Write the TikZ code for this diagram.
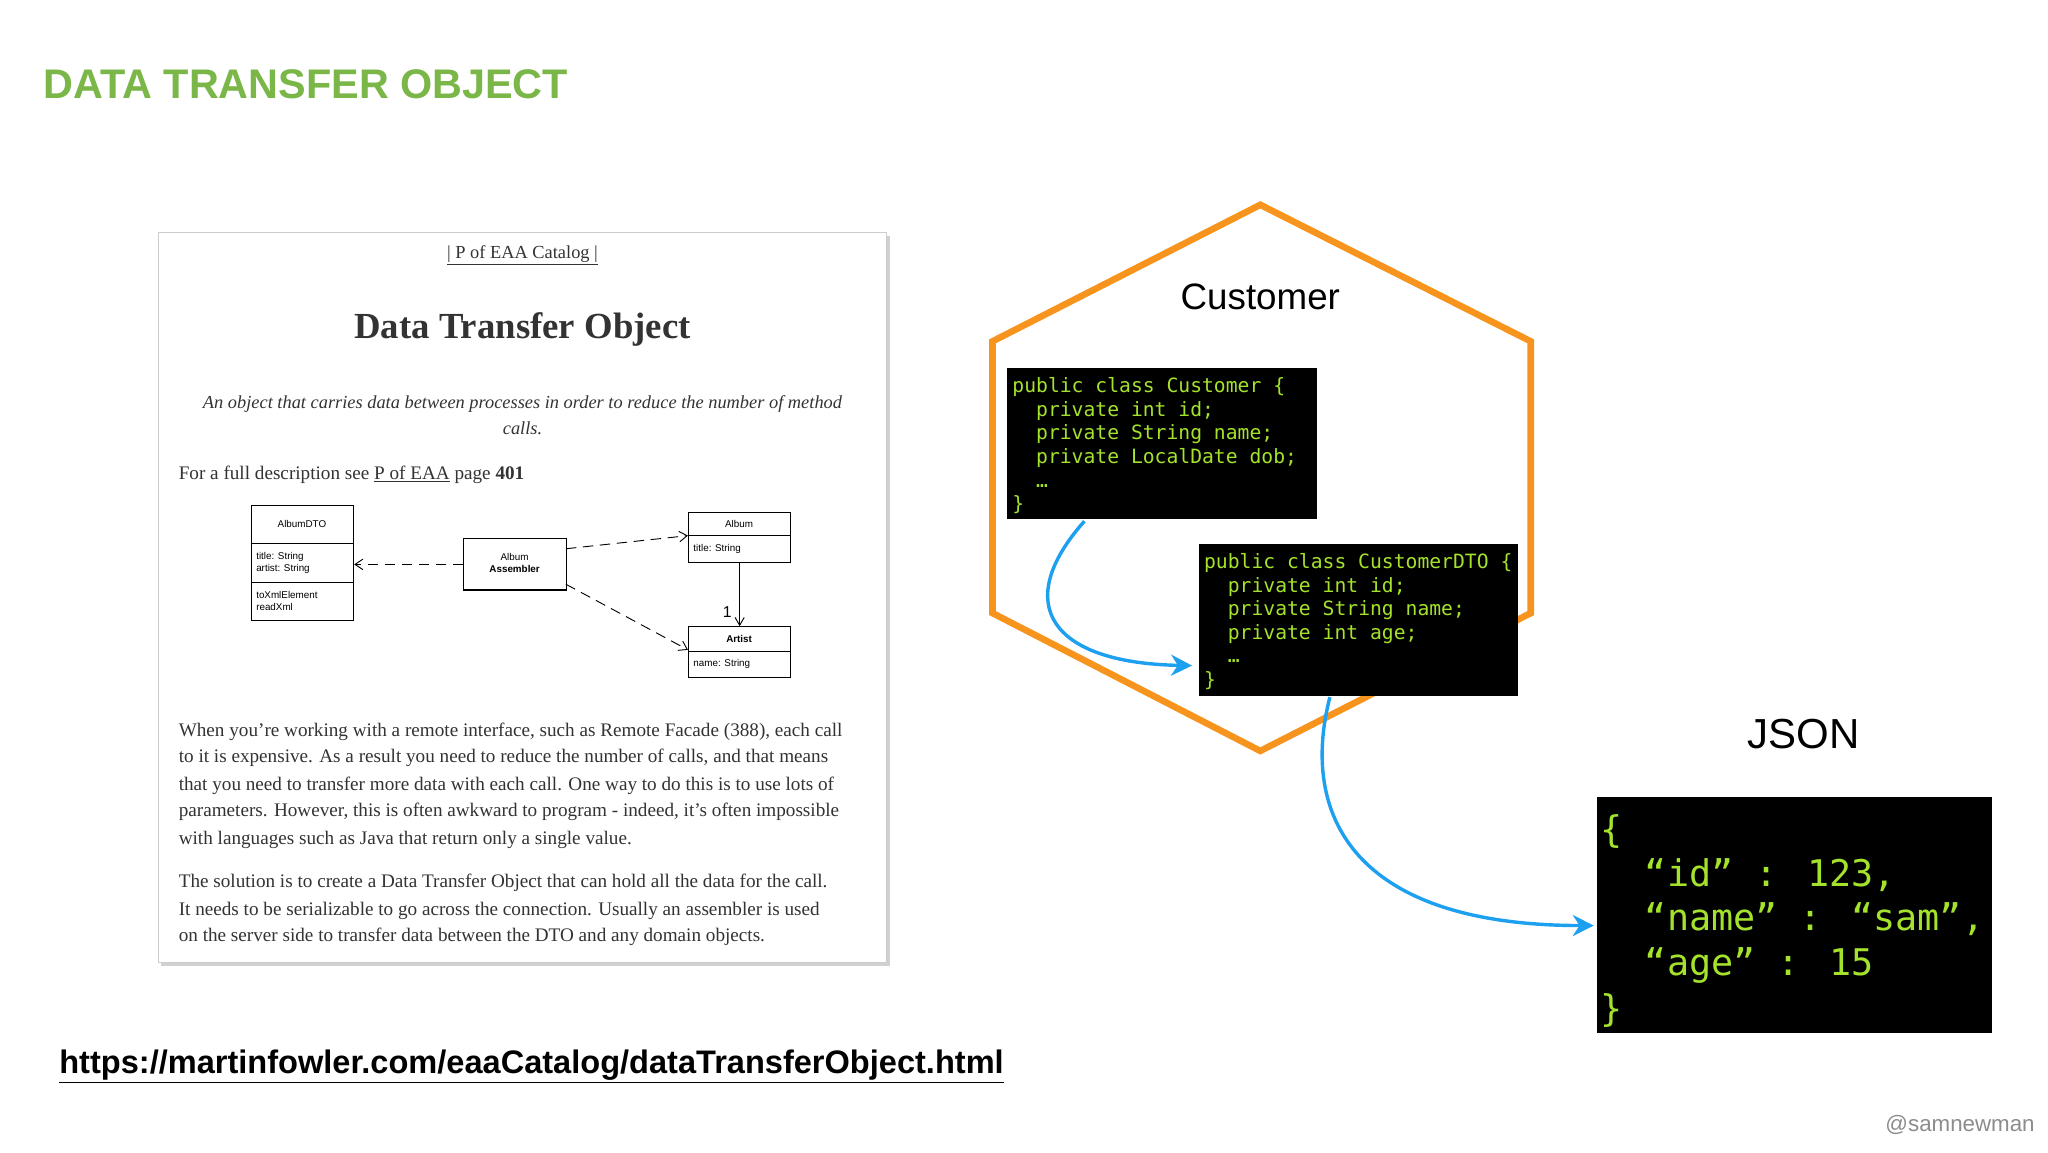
\documentclass[tikz,border=0pt]{standalone}
\usepackage{fontspec}
\setmainfont{Liberation Serif}
\newfontfamily\hsans{Liberation Sans}
\newfontfamily\hmono{DejaVu Sans Mono}
\usetikzlibrary{arrows.meta}
\definecolor{ttl}{HTML}{7AB648}
\definecolor{hexo}{HTML}{F7941D}
\definecolor{codeg}{HTML}{A4E22C}
\definecolor{arrb}{HTML}{1EA0F0}
\definecolor{pg}{HTML}{333333}
\tikzset{
 txt/.style={anchor=base west,inner sep=0,text=pg,font=\fontsize{14.6}{16}\selectfont},
 uml/.style={draw,line width=0.8pt,inner sep=0},
 umlt/.style={font=\hsans\fontsize{7.5}{9}\selectfont,inner sep=0},
 dep/.style={dashed,dash pattern=on 8pt off 5pt,line width=0.7pt,-{Straight Barb[length=6pt,width=8pt]}},
 codebox/.style={fill=black,inner sep=0},
 code/.style={anchor=base west,inner sep=0,text=codeg,font=\hmono\fontsize{15}{18}\selectfont},
 json/.style={anchor=base west,inner sep=0,text=codeg,font=\hmono\fontsize{28}{34}\selectfont},
 blue/.style={draw=arrb,line width=2.6pt,-{Stealth[length=16pt,width=16pt]}},
}
\begin{document}
\begin{tikzpicture}[x=1pt,y=-1pt]
\useasboundingbox (0,0) rectangle (1560,878);
\fill[white] (0,0) rectangle (1560,878);
\node[anchor=base west,inner sep=0,text=ttl,font=\hsans\bfseries\fontsize{31.5}{36}\selectfont] (title) at (33,75) {DATA TRANSFER OBJECT};
% page
\fill[black!18] (123,180) rectangle (678,736);
\node[draw=black!20,fill=white,minimum width=555pt,minimum height=556pt,anchor=north west,inner sep=0] (page) at (120,177) {};
\node[anchor=base,inner sep=0,text=pg,font=\fontsize{14}{16}\selectfont] (cat) at (398,197) {\underline{| P of EAA Catalog |}};
\node[anchor=base,inner sep=0,text=pg,font=\bfseries\fontsize{28}{30}\selectfont] (ptitle) at (398,258) {Data Transfer Object};
\node[anchor=base,inner sep=0,text=pg,font=\itshape\fontsize{14}{16}\selectfont] (it1) at (398,311) {An object that carries data between processes in order to reduce the number of method};
\node[anchor=base,inner sep=0,text=pg,font=\itshape\fontsize{14}{16}\selectfont] (it2) at (398,331) {calls.};
\node[txt] (full) at (136,365) {For a full description see \underline{P of EAA} page \textbf{401}};
% UML
\node[uml,minimum width=78pt,minimum height=87pt,anchor=north west] (dto) at (191,385) {};
\draw[line width=0.8pt] (191,414) -- (269,414) (191,444) -- (269,444);
\node[umlt] (dton) at (230,399) {AlbumDTO};
\node[umlt,anchor=west,align=left] (dtoa) at (195,429) {title: String\\artist: String};
\node[umlt,anchor=west,align=left] (dtom) at (195,458) {toXmlElement\\readXml};
\node[uml,minimum width=78pt,minimum height=39pt,anchor=north west] (asm) at (353,410) {};
\node[umlt,align=center] (asmt) at (392,429) {Album\\\textbf{Assembler}};
\node[uml,minimum width=78pt,minimum height=38pt,anchor=north west] (alb) at (524,390) {};
\draw[line width=0.8pt] (524,408) -- (602,408);
\node[umlt] (albn) at (563,399) {Album};
\node[umlt,anchor=west] (alba) at (528,418) {title: String};
\node[uml,minimum width=78pt,minimum height=39pt,anchor=north west] (art) at (524,477) {};
\draw[line width=0.8pt] (524,496) -- (602,496);
\node[umlt,font=\hsans\bfseries\fontsize{7.5}{9}\selectfont] (artn) at (563,487) {Artist};
\node[umlt,anchor=west] (arta) at (528,506) {name: String};
\draw[dep] (asm.west) -- (dto.east |- asm.west);
\draw[dep] (431,418) -- (524,408);
\draw[dep] (431,445) -- (524,495);
\draw[line width=0.7pt,-{Straight Barb[length=6pt,width=7pt]}] (alb.south) -- (art.north);
\node[umlt,font=\hsans\fontsize{12}{14}\selectfont] (one) at (554,466) {1};
% paragraphs
\node[txt] (p1) at (136,561) {When you're working with a remote interface, such as Remote Facade (388), each call};
\node[txt] (p2) at (136,581) {to it is expensive. As a result you need to reduce the number of calls, and that means};
\node[txt] (p3) at (136,602) {that you need to transfer more data with each call. One way to do this is to use lots of};
\node[txt] (p4) at (136,622) {parameters. However, this is often awkward to program - indeed, it's often impossible};
\node[txt] (p5) at (136,643) {with languages such as Java that return only a single value.};
\node[txt] (q1) at (136,676) {The solution is to create a Data Transfer Object that can hold all the data for the call.};
\node[txt] (q2) at (136,697) {It needs to be serializable to go across the connection. Usually an assembler is used};
\node[txt] (q3) at (136,717) {on the server side to transfer data between the DTO and any domain objects.};
% url
\node[anchor=base west,inner sep=0,font=\hsans\bfseries\fontsize{24.8}{28}\selectfont] (url) at (45,818) {\underline{https://martinfowler.com/eaaCatalog/dataTransferObject.html}};
% hexagon
\draw[hexo,line width=5pt,line join=miter] (960,156) -- (1166,260) -- (1166,467) -- (960,572) -- (756,467) -- (756,260) -- cycle;
\node[anchor=base,inner sep=0,font=\hsans\fontsize{28}{32}\selectfont] (cust) at (960,236) {Customer};
% code boxes
\node[codebox,minimum width=236pt,minimum height=115pt,anchor=north west] (c1) at (767,280) {};
\node[code] (c1a) at (771,299) {public class Customer \{};
\node[code] (c1b) at (771,317) {\ \ private int id;};
\node[code] (c1c) at (771,335) {\ \ private String name;};
\node[code] (c1d) at (771,353) {\ \ private LocalDate dob;};
\node[code] (c1e) at (771,371) {\ \ \dots};
\node[code] (c1f) at (771,389) {\}};
\node[codebox,minimum width=243pt,minimum height=116pt,anchor=north west] (c2) at (913,414) {};
\node[code] (c2a) at (917,433) {public class CustomerDTO \{};
\node[code] (c2b) at (917,451) {\ \ private int id;};
\node[code] (c2c) at (917,469) {\ \ private String name;};
\node[code] (c2d) at (917,487) {\ \ private int age;};
\node[code] (c2e) at (917,505) {\ \ \dots};
\node[code] (c2f) at (917,523) {\}};
% JSON
\node[anchor=base,inner sep=0,font=\hsans\fontsize{32}{36}\selectfont] (jl) at (1374,570) {JSON};
\node[codebox,minimum width=301pt,minimum height=180pt,anchor=north west] (j) at (1216,607) {};
\node[json] (j1) at (1219,642) {\{};
\node[json] (j2) at (1219,675) {\ \ “id” : 123,};
\node[json] (j3) at (1219,709) {\ \ “name” : “sam”,};
\node[json] (j4) at (1219,743) {\ \ “age” : 15};
\node[json] (j5) at (1219,778) {\}};
% blue arrows
\coordinate (a1s) at (826,397);
\coordinate (a2s) at (1013,531);
\draw[blue] (a1s) .. controls (770,460) and (800,505) .. (908,507);
\draw[blue] (a2s) .. controls (990,620) and (1030,705) .. (1214,705);
\node[anchor=base east,inner sep=0,text=black!45,font=\hsans\fontsize{17}{20}\selectfont] (sig) at (1550,862) {@samnewman};
\end{tikzpicture}
\end{document}
